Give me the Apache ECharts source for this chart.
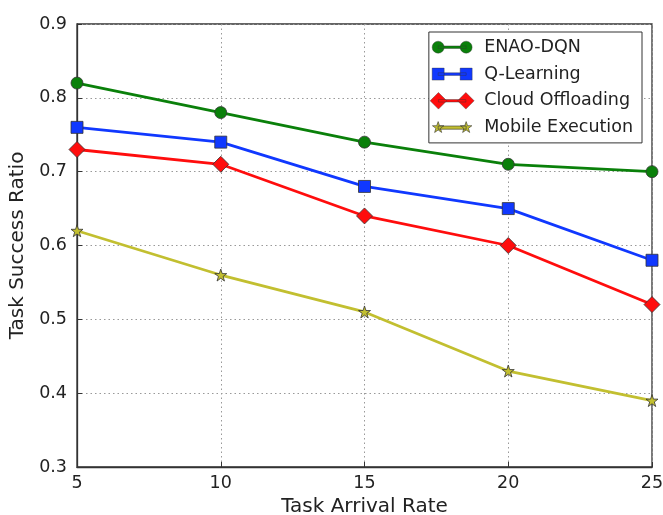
<!DOCTYPE html>
<html>
<head>
<meta charset="utf-8">
<script src="https://cdn.jsdelivr.net/npm/echarts@6/dist/echarts.min.js"></script>
<style>
  html, body { margin: 0; padding: 0; background: #fff; }
  #chart { width: 663px; height: 515px; }
</style>
</head>
<body>
<div id="chart"></div>
<script>
// Task arrival rates on the x axis
const arrivalRates = [5, 10, 15, 20, 25];

// Task success ratio per method
const enaoDqn = [0.82, 0.78, 0.74, 0.71, 0.70];
const qLearning = [0.76, 0.74, 0.68, 0.65, 0.58];
const cloudOffloading = [0.73, 0.71, 0.64, 0.60, 0.52];
const mobileExecution = [0.62, 0.56, 0.51, 0.43, 0.39];

const seriesNames = ['ENAO-DQN', 'Q-Learning', 'Cloud Offloading', 'Mobile Execution'];

// Five-point star centred on (cx, cy)
function starPath(cx, cy, R, r) {
  const pts = [];
  for (let k = 0; k < 10; k++) {
    const ang = (-90 + k * 36) * Math.PI / 180;
    const rad = k % 2 === 0 ? R : r;
    pts.push((cx + rad * Math.cos(ang)).toFixed(3) + ',' + (cy + rad * Math.sin(ang)).toFixed(3));
  }
  return 'M' + pts.join(' L') + ' Z';
}
function circlePath(cx, cy, r) {
  return `M${cx - r},${cy} A${r},${r} 0 1,1 ${cx + r},${cy} A${r},${r} 0 1,1 ${cx - r},${cy} Z`;
}
function diamondPath(cx, cy, r) {
  return `M${cx},${cy - r} L${cx + r},${cy} L${cx},${cy + r} L${cx - r},${cy} Z`;
}
function squarePath(cx, cy, r) {
  return `M${cx - r},${cy - r} L${cx + r},${cy - r} L${cx + r},${cy + r} L${cx - r},${cy + r} Z`;
}
function linePath(x0, x1, cy, h) {
  return `M${x0},${cy - h} L${x1},${cy - h} L${x1},${cy + h} L${x0},${cy + h} Z`;
}

// Legend handles: a short line with a marker at each end (box 44 x 18)
const W = 44, H = 18, C = 9;
const handle = (m, h) => 'path://' + m(8, C) + ' ' + linePath(8, 36, C, h) + ' ' + m(36, C) + ' M0,0 Z M' + W + ',' + H + ' Z';
const legendIcons = [
  handle((x, y) => circlePath(x, y, 6), 1.3),
  handle((x, y) => squarePath(x, y, 6), 1.3),
  handle((x, y) => diamondPath(x, y, 8.5), 1.3),
  handle((x, y) => starPath(x, y, 6, 2.4), 1.6)
];

const colors = ['#0a800a', '#1038ff', '#ff0d0d', '#c2bf30'];

const markerSymbols = [
  'circle',
  'rect',
  'diamond',
  'path://' + starPath(0, 0, 5, 1.95)
];
const markerSizes = [12, 12, 16, 12];
const values = [enaoDqn, qLearning, cloudOffloading, mobileExecution];

const series = seriesNames.map((name, i) => ({
  name: name,
  type: 'line',
  data: arrivalRates.map((x, j) => [x, values[i][j]]),
  symbol: markerSymbols[i],
  symbolSize: markerSizes[i],
  showAllSymbol: true,
  clip: false,
  z: 3 + i,
  lineStyle: { color: colors[i], width: 2.8 },
  itemStyle: { color: colors[i], borderColor: '#333', borderWidth: 0.8 },
  emphasis: { disabled: true },
  animation: false
}));

const chart = echarts.init(document.getElementById('chart'), null, { renderer: 'canvas' });
chart.setOption({
  backgroundColor: '#ffffff',
  animation: false,
  textStyle: { fontFamily: 'DejaVu Sans' },
  grid: {
    left: 77, right: 11, top: 24, bottom: 48,
    containLabel: false,
    outerBoundsMode: 'none',
    show: true, borderColor: '#333', borderWidth: 1.3, backgroundColor: 'transparent'
  },
  legend: {
    orient: 'vertical',
    right: 21,
    top: 32,
    padding: [6, 9, 6, 1],
    itemGap: 8.5,
    itemWidth: W,
    itemHeight: H,
    backgroundColor: '#ffffff',
    borderColor: '#333',
    borderWidth: 1,
    borderRadius: 0,
    selectedMode: false,
    textStyle: { fontSize: 17.5, color: '#222', padding: [0, 0, 0, 5], fontFamily: 'DejaVu Sans' },
    data: seriesNames.map((name, i) => ({
      name: name,
      icon: legendIcons[i],
      itemStyle: { color: colors[i], borderColor: '#333', borderWidth: i === 3 ? 0.6 : 0.4 }
    }))
  },
  xAxis: {
    type: 'value',
    min: 5, max: 25, interval: 5,
    name: 'Task Arrival Rate',
    nameLocation: 'middle',
    nameGap: 29,
    nameTextStyle: { fontSize: 20, color: '#222' },
    axisLine: { show: true, lineStyle: { color: '#333', width: 1.3 } },
    axisTick: { show: true, inside: true, length: 5, lineStyle: { color: '#333' } },
    axisLabel: { fontSize: 17.5, color: '#222', margin: 7 },
    splitLine: { show: true, lineStyle: { color: '#999', type: [1.5, 3], width: 1 } }
  },
  yAxis: {
    type: 'value',
    min: 0.3, max: 0.9, interval: 0.1,
    name: 'Task Success Ratio',
    nameLocation: 'middle',
    nameGap: 44,
    nameTextStyle: { fontSize: 20, color: '#222' },
    axisLine: { show: true, lineStyle: { color: '#333', width: 1.3 } },
    axisTick: { show: true, inside: true, length: 5, lineStyle: { color: '#333' } },
    axisLabel: { fontSize: 17.5, color: '#222', margin: 10, formatter: (v) => v.toFixed(1) },
    splitLine: { show: true, lineStyle: { color: '#999', type: [1.5, 3], width: 1 } }
  },
  series: series
});
</script>
</body>
</html>
